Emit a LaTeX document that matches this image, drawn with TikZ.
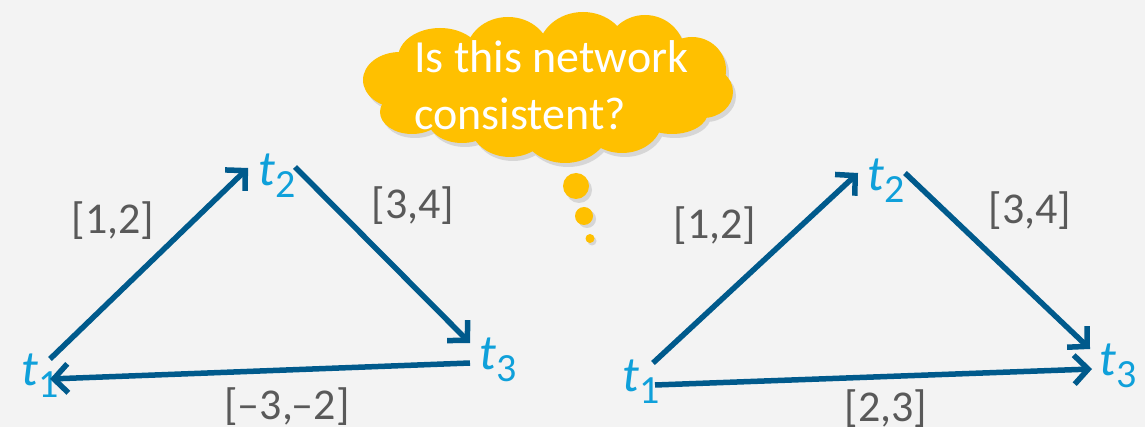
\documentclass[tikz,border=0pt]{standalone}
\usepackage{fontspec}
\setmainfont{Carlito}
\usetikzlibrary{arrows.meta}
\definecolor{bg}{HTML}{F3F3F3}
\definecolor{arrowblue}{HTML}{005A8C}
\definecolor{tblue}{HTML}{0FA0DA}
\definecolor{lblgray}{HTML}{595959}
\definecolor{cloudY}{HTML}{FFC000}
\definecolor{shadowgray}{HTML}{D6D6D6}
\tikzset{
  tnode/.style={inner sep=0pt, text=tblue, font=\fontsize{50}{50}\selectfont\itshape},
  lbl/.style={inner sep=0pt, text=lblgray, font=\fontsize{44}{50}\selectfont},
  arr/.style={draw=arrowblue, line width=5.5pt, -{Straight Barb[length=14pt,width=29pt]}},
  bubble/.style={circle, fill=cloudY, inner sep=0pt},
  bubshadow/.style={circle, fill=shadowgray, inner sep=0pt},
}
\newcommand{\tsub}[1]{t\/\raisebox{-12pt}{\upshape\fontsize{40}{40}\selectfont #1}}
\newcommand{\puffs}{%
  \foreach \cx/\cy/\rx/\ry in {400/80/37/28, 412/112/32/22, 440/58/42/30, 508/54/42/37,
     583/52/45/40, 645/54/40/39, 692/70/34/33, 703/92/30/26, 672/112/36/22,
     622/120/40/33, 565/125/45/38, 510/124/40/33, 462/118/35/25, 548/88/150/50}
     {\fill (\cx,\cy) ellipse [x radius=\rx, y radius=\ry];}}
\begin{document}
\begin{tikzpicture}[x=1pt,y=-1pt]
\fill[bg] (0,0) rectangle (1145,427);
\useasboundingbox (0,0) rectangle (1145,427);

% thought cloud: shadow then body
\begin{scope}[shift={(3,4)}, shadowgray]
  \puffs
\end{scope}
\begin{scope}[cloudY]
  \puffs
\end{scope}
\node[anchor=north west, inner sep=0pt, align=left, text=white, font=\fontsize{46}{57}\selectfont] (q) at (414,40) {Is this network\\consistent?};
\node[bubshadow, minimum size=26pt] (s1) at (579,190) {};
\node[bubshadow, minimum size=18pt] (s2) at (587,219) {};
\node[bubshadow, minimum size=9pt] (s3) at (592,241) {};
\node[bubble, minimum size=26pt] (b1) at (576,186) {};
\node[bubble, minimum size=18pt] (b2) at (584,216) {};
\node[bubble, minimum size=9pt] (b3) at (590,238.5) {};

% left network
\node[tnode] (a1) at (40,376) {\tsub{1}};
\node[tnode] (a2) at (277,176) {\tsub{2}};
\node[tnode] (a3) at (498,360) {\tsub{3}};
\draw[arr] ([shift={(10,-17)}]a1.center) -- ([shift={(-29,-8)}]a2.center);
\draw[arr] ([shift={(18,-9)}]a2.center) -- ([shift={(-28,-17)}]a3.center);
\draw[arr] ([shift={(-28,3)}]a3.center) -- ([shift={(10,3)}]a1.center);
\node[lbl] (la12) at (113,221) {[1,2]};
\node[lbl] (la23) at (413,206) {[3,4]};
\node[lbl] (la31) at (287,407) {[–3,–2]};

% right network
\node[tnode] (b1n) at (641,382) {\tsub{1}};
\node[tnode] (b2n) at (886,181) {\tsub{2}};
\node[tnode] (b3n) at (1118,366) {\tsub{3}};
\draw[arr] ([shift={(12,-19)}]b1n.center) -- ([shift={(-28,-8)}]b2n.center);
\draw[arr] ([shift={(19,-8)}]b2n.center) -- ([shift={(-28,-17)}]b3n.center);
\draw[arr] ([shift={(14,3)}]b1n.center) -- ([shift={(-26,3)}]b3n.center);
\node[lbl] (lb12) at (715,226) {[1,2]};
\node[lbl] (lb23) at (1030,211) {[3,4]};
\node[lbl] (lb13) at (886,409) {[2,3]};
\end{tikzpicture}
\end{document}
